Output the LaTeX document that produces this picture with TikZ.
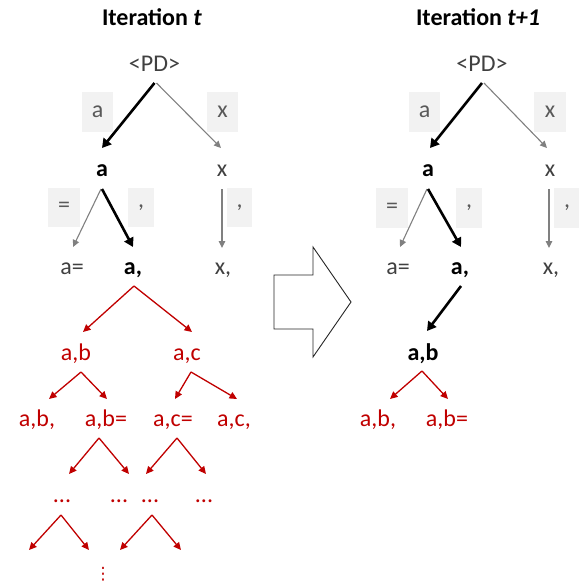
\documentclass[tikz,border=0pt]{standalone}
\usepackage{fontspec}
\setmainfont{Carlito}
\newfontfamily\dejavu{DejaVu Sans}
\usetikzlibrary{arrows.meta,calc}
\definecolor{redc}{HTML}{C00000}
\definecolor{txtgray}{HTML}{404040}
\definecolor{lblgray}{HTML}{595959}
\definecolor{boxfill}{HTML}{F2F2F2}
\definecolor{arrgray}{HTML}{808080}
\tikzset{
  txt/.style={anchor=base,inner sep=0pt,font=\fontsize{24}{28}\selectfont},
  gtxt/.style={txt,text=txtgray},
  btxt/.style={txt,text=black,font=\fontsize{24}{28}\selectfont\bfseries},
  rtxt/.style={txt,text=redc},
  ttl/.style={anchor=base,inner sep=0pt,font=\fontsize{24}{28}\selectfont\bfseries},
  lbl/.style={fill=boxfill,text=lblgray,inner sep=0pt,font=\fontsize{24}{28}\selectfont},
  boldarr/.style={line width=2.6pt,draw=black,-{Triangle[length=9pt,width=10pt]}},
  grayarr/.style={line width=1.1pt,draw=arrgray,-{Triangle[length=7pt,width=6.5pt]}},
  redarr/.style={line width=1.3pt,draw=redc,-{Triangle[length=7.5pt,width=7pt]}},
  bigarrow/.style={draw=black!85,line width=0.9pt,fill=white}
}
\begin{document}
\begin{tikzpicture}[x=1pt,y=-1pt]
\useasboundingbox (0,0) rectangle (578,583);
% ---------- Left: iteration t ----------
\node[ttl] (t1) at (152,26) {Iteration \textit{t}};
\node[gtxt] (pd) at (154.5,72) {<PD>};
\node[btxt] (a1) at (102,176) {a};
\node[gtxt] (x1) at (222,176) {x};
\node[gtxt] (aeq) at (72,274) {a=};
\node[btxt] (acom) at (133,274) {a,};
\node[gtxt] (xcom) at (223,274) {x,};
% label boxes
\node[lbl,minimum width=31pt,minimum height=40pt] (la) at (97.5,112) {a};
\node[lbl,minimum width=31pt,minimum height=40pt] (lx) at (222.5,112) {x};
\node[lbl,minimum width=32pt,minimum height=39pt] (leq) at (64,207.5) {=};
\node[lbl,minimum width=26pt,minimum height=39pt] (lc1) at (141,207.5) {,};
\node[lbl,minimum width=25pt,minimum height=39pt] (lc2) at (239.5,207.5) {,};
% arrows
\draw[boldarr] ($(pd.base)+(0,11)$) -- ($(a1.base)+(0,-28)$);
\draw[grayarr] ($(pd.base)+(2,11)$) -- ($(x1.base)+(-1,-28)$);
\draw[grayarr] ($(a1.base)+(-1,13)$) -- ($(aeq.base)+(1,-27)$);
\draw[boldarr] ($(a1.base)+(0,13)$) -- ($(acom.base)+(0,-27)$);
\draw[grayarr] ($(x1.base)+(0,13)$) -- ($(xcom.base)+(-1,-26)$);
% red subtree
\node[rtxt] (ab) at (76,360) {a,b};
\node[rtxt] (ac) at (187,360) {a,c};
\node[rtxt] (abc) at (37,426) {a,b,};
\node[rtxt] (abe) at (106,426) {a,b=};
\node[rtxt] (ace) at (173,426) {a,c=};
\node[rtxt] (acc) at (234,426) {a,c,};
\node[rtxt] (d1) at (62,502) {...};
\node[rtxt] (d2) at (119,502) {...};
\node[rtxt] (d3) at (150,502) {...};
\node[rtxt] (d4) at (204,502) {...};
\node[text=redc,inner sep=0pt,font=\dejavu\fontsize{17}{17}\selectfont] (vd) at (103,574) {⋮};
\coordinate (e1) at (29,550);
\coordinate (e2) at (89,550);
\coordinate (e3) at (120,550);
\coordinate (e4) at (181,550);
\draw[redarr] ($(acom.base)+(1,12)$) -- ($(ab.base)+(7,-28)$);
\draw[redarr] ($(acom.base)+(1,12)$) -- ($(ac.base)+(5,-28)$);
\draw[redarr] ($(ab.base)+(5,12)$) -- ($(abc.base)+(12,-27)$);
\draw[redarr] ($(ab.base)+(5,12)$) -- ($(abe.base)+(1,-27)$);
\draw[redarr] ($(ac.base)+(4,12)$) -- ($(ace.base)+(2,-27)$);
\draw[redarr] ($(ac.base)+(4,12)$) -- ($(acc.base)+(3,-27)$);
\draw[redarr] ($(abe.base)+(-7,12)$) -- ($(d1.base)+(7,-28)$);
\draw[redarr] ($(abe.base)+(-7,12)$) -- ($(d2.base)+(10,-28)$);
\draw[redarr] ($(ace.base)+(4,12)$) -- ($(d3.base)+(-4,-28)$);
\draw[redarr] ($(ace.base)+(4,12)$) -- ($(d4.base)+(2,-28)$);
\draw[redarr] ($(d1.base)+(-1,13)$) -- (e1);
\draw[redarr] ($(d1.base)+(-1,13)$) -- (e2);
\draw[redarr] ($(d3.base)+(2,13)$) -- (e3);
\draw[redarr] ($(d3.base)+(2,13)$) -- (e4);
% ---------- Big arrow ----------
\draw[bigarrow] (274,275) -- (313,275) -- (313,247) -- (351,302) -- (313,357) -- (313,329) -- (274,329) -- cycle;
% ---------- Right: iteration t+1 ----------
\node[ttl] (t2) at (478,26) {Iteration \textit{t+1}};
\node[gtxt] (pd2) at (482,72) {<PD>};
\node[btxt] (a2) at (428,176) {a};
\node[gtxt] (x2) at (550,176) {x};
\node[gtxt] (aeq2) at (398,274) {a=};
\node[btxt] (acom2) at (460,274) {a,};
\node[gtxt] (xcom2) at (551,274) {x,};
\node[lbl,minimum width=31pt,minimum height=40pt] (la2) at (424.5,112) {a};
\node[lbl,minimum width=32pt,minimum height=40pt] (lx2) at (550,112) {x};
\node[lbl,minimum width=32pt,minimum height=40pt] (leq2) at (392,208) {=};
\node[lbl,minimum width=26pt,minimum height=40pt] (lc3) at (469,208) {,};
\node[lbl,minimum width=26pt,minimum height=40pt] (lc4) at (567,208) {,};
\draw[boldarr] ($(pd2.base)+(0,11)$) -- ($(a2.base)+(2,-28)$);
\draw[grayarr] ($(pd2.base)+(2,11)$) -- ($(x2.base)+(-3,-28)$);
\draw[grayarr] ($(a2.base)+(-1,13)$) -- ($(aeq2.base)+(2,-27)$);
\draw[boldarr] ($(a2.base)+(0,13)$) -- ($(acom2.base)+(1,-27)$);
\draw[grayarr] ($(x2.base)+(-1,13)$) -- ($(xcom2.base)+(-2,-26)$);
\node[btxt] (ab2) at (423,360) {a,b};
\node[rtxt] (abc2) at (378,426) {a,b,};
\node[rtxt] (abe2) at (447,426) {a,b=};
\draw[boldarr] ($(acom2.base)+(1,12)$) -- ($(ab2.base)+(4,-29)$);
\draw[redarr] ($(ab2.base)+(-1,11)$) -- ($(abc2.base)+(12,-27)$);
\draw[redarr] ($(ab2.base)+(-1,11)$) -- ($(abe2.base)+(1,-27)$);
\end{tikzpicture}
\end{document}
